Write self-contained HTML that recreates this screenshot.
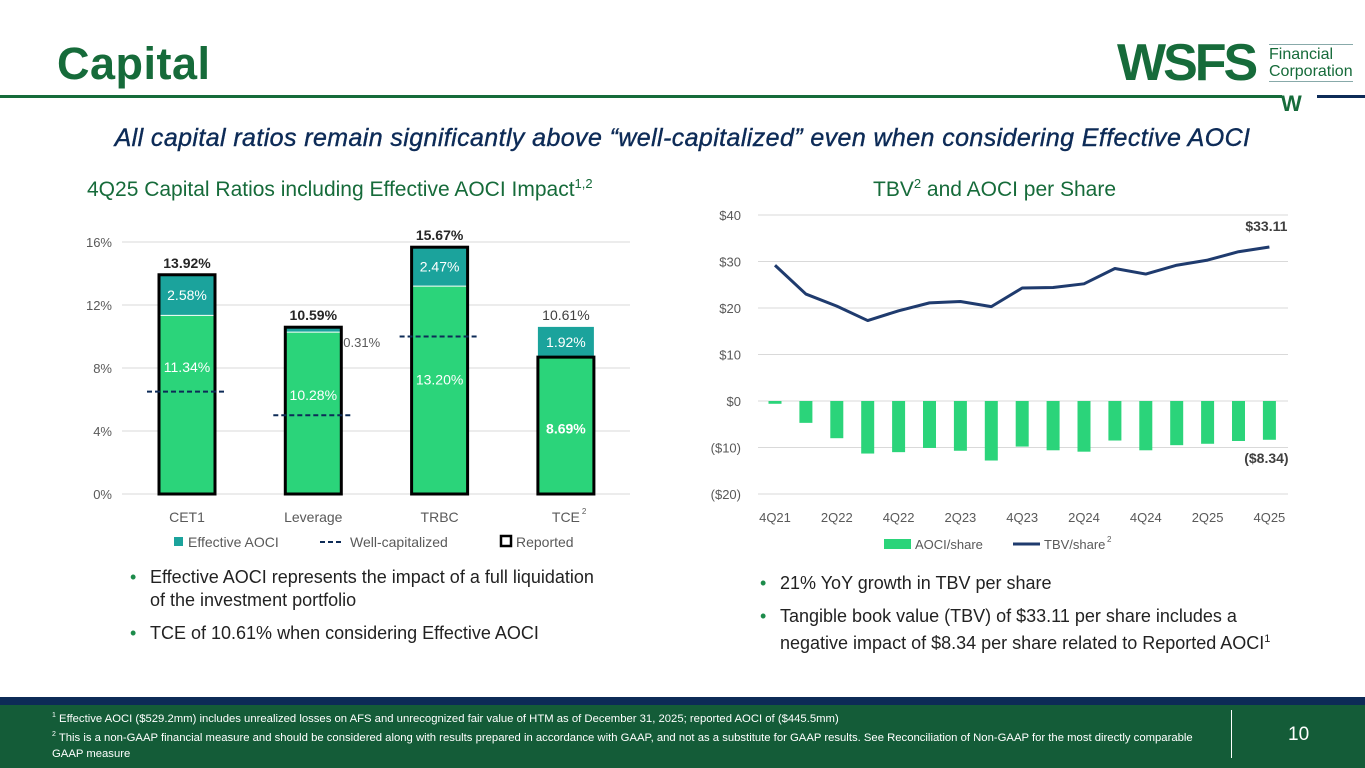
<!DOCTYPE html>
<html><head><meta charset="utf-8"><style>
body{margin:0;width:1365px;height:768px;position:relative;overflow:hidden;background:#fff;font-family:"Liberation Sans",Calibri,sans-serif;}
.abs{position:absolute;}
</style></head><body>
<div class="abs" style="left:57px;top:38px;font-size:45px;font-weight:bold;color:#166b3a;letter-spacing:0.5px;">Capital</div>
<div class="abs" style="left:0;top:95px;width:1282px;height:3px;background:#166b3a"></div>
<div class="abs" style="left:1317px;top:95px;width:48px;height:3px;background:#0d2b57"></div>
<div class="abs" style="left:1281px;top:91px;font-size:22px;font-weight:900;color:#166b3a;">W</div>
<div class="abs" style="left:1117px;top:33px;font-size:52px;font-weight:900;color:#166b3a;letter-spacing:-3px;line-height:60px;">WSFS</div>
<div class="abs" style="left:1269px;top:44px;font-size:16px;color:#166b3a;line-height:17px;border-top:1px solid #8aa;border-bottom:1px solid #8aa;padding:1px 0">Financial<br>Corporation</div>
<div class="abs" style="left:0;width:1365px;top:124px;text-align:center;font-size:25px;font-style:italic;color:#0d2b57;letter-spacing:0.4px;-webkit-text-stroke:0.4px #0d2b57;">All capital ratios remain significantly above “well-capitalized” even when considering Effective AOCI</div>
<div class="abs" style="left:87px;top:176px;font-size:21px;color:#166b3a;">4Q25 Capital Ratios including Effective AOCI Impact<sup style="font-size:13px">1,2</sup></div>
<div class="abs" style="left:873px;top:176px;font-size:21px;color:#166b3a;">TBV<sup style="font-size:13px">2</sup> and AOCI per Share</div>

<svg class="abs" style="left:0;top:0" width="1365" height="768">
<g id="left"></g><g id="right"></g>
</svg>

<div class="abs" style="left:130px;top:566px;font-size:18px;color:#222;line-height:23px;width:540px">
<div style="display:flex"><span style="width:20px;color:#1c8b4a">•</span><span>Effective AOCI represents the impact of a full liquidation<br>of the investment portfolio</span></div>
<div style="display:flex;margin-top:10px"><span style="width:20px;color:#1c8b4a">•</span><span>TCE of 10.61% when considering Effective AOCI</span></div>
</div>
<div class="abs" style="left:760px;top:572px;font-size:18px;color:#222;line-height:23px;width:600px">
<div style="display:flex"><span style="width:20px;color:#1c8b4a">•</span><span>21% YoY growth in TBV per share</span></div>
<div style="display:flex;margin-top:10px"><span style="width:20px;color:#1c8b4a">•</span><span>Tangible book value (TBV) of $33.11 per share includes a<br>negative impact of $8.34 per share related to Reported AOCI<sup style="font-size:11px">1</sup></span></div>
</div>

<div class="abs" style="left:0;top:697px;width:1365px;height:8px;background:#0d2b57"></div>
<div class="abs" style="left:0;top:705px;width:1365px;height:63px;background:#145c38"></div>
<div class="abs" style="left:52px;top:708px;font-size:11.3px;color:#fff;line-height:16px;width:1150px">
<sup style="font-size:7px">1</sup> Effective AOCI ($529.2mm) includes unrealized losses on AFS and unrecognized fair value of HTM as of December 31, 2025; reported AOCI of ($445.5mm)<br>
<sup style="font-size:7px">2</sup> This is a non-GAAP financial measure and should be considered along with results prepared in accordance with GAAP, and not as a substitute for GAAP results. See Reconciliation of Non-GAAP for the most directly comparable GAAP measure</div>
<div class="abs" style="left:1231px;top:710px;width:1px;height:48px;background:#fff"></div>
<div class="abs" style="left:1288px;top:724px;font-size:19px;color:#fff">10</div>

<script>
const capCats=["CET1","Leverage","TRBC","TCE"];
const capBase=[11.34,10.28,13.20,8.69];
const capAoci=[2.58,0.31,2.47,1.92];
const capTotal=[13.92,10.59,15.67,10.61];
const capReported=[13.92,10.59,15.67,8.69];
const capWell=[6.5,5,10,null];
const capTicks=[0,4,8,12,16];

const qCats=["4Q21","1Q22","2Q22","3Q22","4Q22","1Q23","2Q23","3Q23","4Q23","1Q24","2Q24","3Q24","4Q24","1Q25","2Q25","3Q25","4Q25"];
const tbv=[29.2,23.0,20.4,17.3,19.4,21.1,21.4,20.3,24.3,24.4,25.2,28.5,27.3,29.2,30.3,32.1,33.11];
const aoci=[-0.6,-4.7,-8.0,-11.3,-11.0,-10.1,-10.7,-12.8,-9.8,-10.6,-10.9,-8.5,-10.6,-9.5,-9.2,-8.6,-8.34];
const rTicks=[-20,-10,0,10,20,30,40];
const rTickLabels=["($20)","($10)","$0","$10","$20","$30","$40"];

const NS="http://www.w3.org/2000/svg";
function mk(p,t,a,txt){const e=document.createElementNS(NS,t);for(const k in a)e.setAttribute(k,a[k]);if(txt!=null)e.textContent=txt;p.appendChild(e);return e;}
const F='"Liberation Sans",sans-serif';
const labelFrac=[0.71,0.61,0.55,0.48];

// left chart
const L=document.getElementById('left');
const ly=v=>494-v*15.75;
const lx=i=>187+i*126.3;
capTicks.forEach(t=>{
 const g=mk(L,'line',{x1:122,x2:630,y1:ly(t),y2:ly(t),stroke:'#d9d9d9','stroke-width':1});
 
 const tx=mk(L,'text',{x:112,y:ly(t)+5,'text-anchor':'end','font-size':13,fill:'#595959','font-family':F},t+'%');
 
});
capCats.forEach((c,i)=>{
 const x=lx(i),w=56;
 const b=mk(L,'rect',{x:x-w/2,y:ly(capBase[i]),width:w,height:ly(0)-ly(capBase[i]),fill:'#2bd47a'});
 
 const a=mk(L,'rect',{x:x-w/2,y:ly(capBase[i]+capAoci[i]),width:w,height:ly(capBase[i])-ly(capBase[i]+capAoci[i]),fill:'#1ba39c'});
 
 const sep=mk(L,'line',{x1:x-w/2,x2:x+w/2,y1:ly(capBase[i]),y2:ly(capBase[i]),stroke:'#fff','stroke-width':1});
 
 const o=mk(L,'rect',{x:x-w/2,y:ly(capReported[i]),width:w,height:ly(0)-ly(capReported[i]),fill:'none',stroke:'#000','stroke-width':3});
 
 const bl=mk(L,'text',{x:x,y:ly(capBase[i]*labelFrac[i])+5,'text-anchor':'middle','font-size':14,fill:'#fff','font-family':F,'font-weight':i==3?'bold':'normal'},capBase[i].toFixed(2)+'%');
 
 if(i==1){
  const al=mk(L,'text',{x:x+30,y:ly(capTotal[i])+20,'font-size':13,fill:'#595959','font-family':F},capAoci[i].toFixed(2)+'%');
  
 }else{
  const al=mk(L,'text',{x:x,y:(ly(capBase[i])+ly(capBase[i]+capAoci[i]))/2+5,'text-anchor':'middle','font-size':14,fill:'#fff','font-family':F},capAoci[i].toFixed(2)+'%');
  
 }
 const tl=mk(L,'text',{x:x,y:ly(capTotal[i])-7,'text-anchor':'middle','font-size':14,fill:i==3?'#404040':'#262626','font-weight':i==3?'normal':'bold','font-family':F},capTotal[i].toFixed(2)+'%');
 
 if(capWell[i]!=null){
  const d=mk(L,'line',{x1:x-40,x2:x+40,y1:ly(capWell[i]),y2:ly(capWell[i]),stroke:'#0d2b57','stroke-width':2,'stroke-dasharray':'5,3'});
  
 }
 const xl=mk(L,'text',{x:x,y:522,'text-anchor':'middle','font-size':14,fill:'#595959','font-family':F},c);
 
 if(i==3){const s=mk(L,'text',{x:x+16,y:514,'font-size':8,fill:'#595959','font-family':F},'2');}
});
let e=mk(L,'rect',{x:174,y:537,width:9,height:9,fill:'#1ba39c'});
e=mk(L,'text',{x:188,y:547,'font-size':14,fill:'#595959','font-family':F},'Effective AOCI');
e=mk(L,'line',{x1:320,x2:343,y1:542,y2:542,stroke:'#0d2b57','stroke-width':2,'stroke-dasharray':'5,3'});
e=mk(L,'text',{x:350,y:547,'font-size':14,fill:'#595959','font-family':F},'Well-capitalized');
e=mk(L,'rect',{x:501,y:536,width:10,height:10,fill:'none',stroke:'#000','stroke-width':2.5});
e=mk(L,'text',{x:516,y:547,'font-size':14,fill:'#595959','font-family':F},'Reported');

// right chart
const R=document.getElementById('right');
const ry=v=>401-v*4.65;
const rx=i=>775+i*30.9;
rTicks.forEach((t,k)=>{
 const g=mk(R,'line',{x1:758,x2:1288,y1:ry(t),y2:ry(t),stroke:'#d9d9d9','stroke-width':1});
 
 const tx=mk(R,'text',{x:741,y:ry(t)+5,'text-anchor':'end','font-size':13,fill:'#595959','font-family':F},rTickLabels[k]);
 
});
aoci.forEach((v,i)=>{
 const b=mk(R,'rect',{x:rx(i)-6.5,y:ry(0),width:13,height:ry(v)-ry(0),fill:'#2bd47a'});
 
 if(i%2==0){const xl=mk(R,'text',{x:rx(i),y:522,'text-anchor':'middle','font-size':13,fill:'#595959','font-family':F},qCats[i]);}
});
const pl=mk(R,'polyline',{points:tbv.map((v,i)=>rx(i)+','+ry(v)).join(' '),fill:'none',stroke:'#1f3b6e','stroke-width':3,'stroke-linejoin':'round'});

const n=tbv.length-1;
e=mk(R,'text',{x:rx(n)-3,y:ry(tbv[n])-16,'text-anchor':'middle','font-size':14,'font-weight':'bold',fill:'#404040','font-family':F},'$'+tbv[n].toFixed(2));
e=mk(R,'text',{x:rx(n)-3,y:ry(aoci[n])+23,'text-anchor':'middle','font-size':14,'font-weight':'bold',fill:'#404040','font-family':F},'($'+Math.abs(aoci[n]).toFixed(2)+')');
e=mk(R,'rect',{x:884,y:539,width:27,height:10,fill:'#2bd47a'});
e=mk(R,'text',{x:915,y:549,'font-size':13,fill:'#595959','font-family':F},'AOCI/share');
e=mk(R,'line',{x1:1013,x2:1040,y1:544,y2:544,stroke:'#1f3b6e','stroke-width':3});
e=mk(R,'text',{x:1044,y:549,'font-size':13,fill:'#595959','font-family':F},'TBV/share');
e=mk(R,'text',{x:1107,y:542,'font-size':8,fill:'#595959','font-family':F},'2');
</script>
</body></html>
